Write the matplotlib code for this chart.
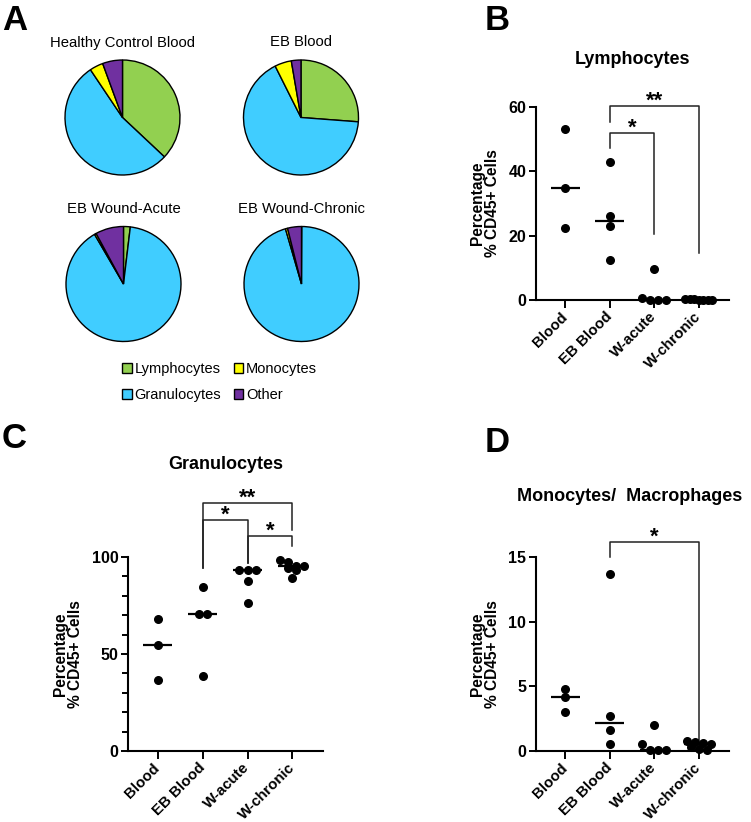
import matplotlib
matplotlib.use("Agg")
import matplotlib.pyplot as plt
from matplotlib.patches import Patch
from matplotlib.ticker import MultipleLocator
import numpy as np

plt.rcParams['font.family'] = ['Liberation Sans', 'DejaVu Sans']

W, H = 751, 822

# ---- data ----
cell_types = ["Lymphocytes", "Granulocytes", "Monocytes", "Other"]
cell_colors = ["#92D050", "#40CDFF", "#FFFF00", "#7030A0"]
pie_titles = ["Healthy Control Blood", "EB Blood", "EB Wound-Acute", "EB Wound-Chronic"]
pie_hc_blood = [37.0, 53.6, 3.8, 5.6]
pie_eb_blood = [26.2, 66.4, 4.7, 2.7]
pie_wound_acute = [1.9, 89.7, 0.5, 7.9]
pie_wound_chronic = [0.1, 95.4, 0.6, 3.9]

groups = ["Blood", "EB Blood", "W-acute", "W-chronic"]

lymph_blood = [53.3, 34.9, 22.3]
lymph_eb_blood = [43.0, 26.2, 23.1, 12.3]
lymph_w_acute = [9.6, 0.5, 0.1, 0.1, 0.1]
lymph_w_chronic = [0.3, 0.2, 0.1, 0.1, 0.2, 0.1, 0.1]

gran_blood = [68.0, 54.5, 36.6]
gran_eb_blood = [84.7, 70.6, 70.6, 38.8]
gran_w_acute = [93.3, 93.3, 93.3, 87.5, 76.3]
gran_w_chronic = [97.3, 98.3, 95.5, 94.2, 95.5, 93.1, 89.0]

mono_blood = [4.8, 4.2, 3.0]
mono_eb_blood = [13.7, 2.7, 1.6, 0.57]
mono_w_acute = [2.0, 0.55, 0.1, 0.1, 0.1]
mono_w_chronic = [0.8, 0.7, 0.6, 0.55, 0.3, 0.15, 0.1]

# comparisons: (group i, group j, label, bracket top, left leg end, right leg end)
lymph_sig = [(1, 3, "**", 60.2, 55.4, 14.6), (1, 2, "*", 51.8, 47.2, 20.5)]
gran_sig = [(1, 3, "**", 127.7, 94.3, 114.1), (1, 2, "*", 118.9, 94.3, 96.9),
            (2, 3, "*", 110.7, 96.9, 105.5)]
mono_sig = [(1, 3, "*", 16.16, 15.0, 0.82)]


def rect(x0, y0, x1, y1):
    return [x0 / W, 1 - y1 / H, (x1 - x0) / W, (y1 - y0) / H]


def row_offsets(ax, x0, vals, d_px=7.3, maxw=0.3):
    # spread points of similar value side by side (graphpad-ish scatter)
    vals = np.asarray(vals, dtype=float)
    pts = ax.transData.transform(np.column_stack([np.full(len(vals), x0), vals]))
    ypx = pts[:, 1]
    xscale = ax.transData.transform((1, 0))[0] - ax.transData.transform((0, 0))[0]
    order = np.argsort(-vals)
    offs = np.zeros(len(vals))
    rows = []
    for i in order:
        if rows and abs(ypx[rows[-1][0]] - ypx[i]) < d_px * 0.8:
            rows[-1].append(i)
        else:
            rows.append([i])
    for r in rows:
        n = len(r)
        step = d_px * 1.1 / xscale
        o = (np.arange(n) - (n - 1) / 2) * step
        if n > 1 and np.abs(o).max() > maxw:
            o = o * maxw / np.abs(o).max()
        offs[r] = o
    return offs


fig = plt.figure(figsize=(W / 100, H / 100), dpi=100)

# ---- A: pies ----
pie_sets = [pie_hc_blood, pie_eb_blood, pie_wound_acute, pie_wound_chronic]
centers = [(122.5, 117.5), (301, 117.5), (123.5, 284), (301.5, 284)]
r_px = 57.5
for vals, (cx, cy), title in zip(pie_sets, centers, pie_titles):
    ax = fig.add_axes(rect(cx - 66, cy - 66, cx + 66, cy + 66))
    ax.pie(vals, colors=cell_colors, startangle=90, counterclock=False,
           wedgeprops=dict(edgecolor="black", linewidth=1.0))
    lim = 66 / r_px
    ax.set_xlim(-lim, lim)
    ax.set_ylim(-lim, lim)
    ax.set_axis_off()
    fig.text(cx / W, 1 - (cy - 75) / H, title, ha="center", va="center", fontsize=10.7)

handles = [Patch(facecolor=c, edgecolor="black", linewidth=1.0) for c in cell_colors]
fig.legend(handles, cell_types, loc="upper left", bbox_to_anchor=(115 / W, 1 - 355 / H),
           ncol=2, frameon=False, fontsize=10.5, borderpad=0, handlelength=0.65,
           handleheight=0.65, handletextpad=0.2, columnspacing=0.85, labelspacing=0.8)


# ---- B, C, D: scatter plots ----
def dot_panel(box, datasets, ylim, yticks, title, title_xy, sig, minor=None):
    ax = fig.add_axes(rect(*box))
    ax.set_xlim(-0.66, 3.68)
    ax.set_ylim(*ylim)
    for i, vals in enumerate(datasets):
        offs = row_offsets(ax, i, vals)
        ax.scatter(i + offs, vals, s=30, color="black", zorder=3, clip_on=False)
        ax.hlines(np.median(vals), i - 0.33, i + 0.33, color="black", lw=1.6, zorder=2)
    for i, j, lab, top, lend, rend in sig:
        ax.plot([i, i, j, j], [lend, top, top, rend], color="#222222", lw=1.1, clip_on=False)
        ax.annotate(lab, xy=((i + j) / 2, top), xytext=(0, -0.5), textcoords="offset points",
                    ha="center", va="baseline", fontsize=16, fontweight="bold",
                    annotation_clip=False)
    ax.set_yticks(yticks)
    if minor:
        ax.yaxis.set_minor_locator(MultipleLocator(minor))
        ax.tick_params(axis="y", which="minor", length=4, width=1.4)
    ax.set_xticks(range(len(groups)))
    ax.set_xticklabels(groups, rotation=45, ha="right", va="center", rotation_mode="anchor",
                       fontweight="bold", fontsize=10.8)
    for lbl in ax.get_yticklabels():
        lbl.set_fontweight("bold")
        lbl.set_fontsize(11.5)
    ax.tick_params(axis="y", which="major", length=5, width=1.4, pad=2)
    ax.tick_params(axis="x", length=5.5, width=1.4, pad=5)
    for s in ["top", "right"]:
        ax.spines[s].set_visible(False)
    for s in ["left", "bottom"]:
        ax.spines[s].set_linewidth(1.5)
    ax.set_ylabel("Percentage\n% CD45+ Cells", fontweight="bold", fontsize=11.2,
                  linespacing=1.0, labelpad=6)
    fig.text(title_xy[0] / W, 1 - title_xy[1] / H, title, ha="center", va="center",
             fontsize=13, fontweight="bold")
    return ax


dot_panel((536, 107, 729, 300), [lymph_blood, lymph_eb_blood, lymph_w_acute, lymph_w_chronic],
          (0, 60), [0, 20, 40, 60], "Lymphocytes", (632, 60), lymph_sig)
dot_panel((128, 557, 323, 751), [gran_blood, gran_eb_blood, gran_w_acute, gran_w_chronic],
          (0, 100), [0, 50, 100], "Granulocytes", (226, 464), gran_sig, minor=10)
dot_panel((536, 557, 729, 751), [mono_blood, mono_eb_blood, mono_w_acute, mono_w_chronic],
          (0, 15), [0, 5, 10, 15], "Monocytes/  Macrophages", (630, 496), mono_sig)

# panel letters
for lab, x, y in [("A", 2, 20), ("B", 485, 20), ("C", 2, 438), ("D", 485, 443)]:
    fig.text(x / W, 1 - y / H, lab, ha="left", va="center", fontsize=25, fontweight="bold")

fig.savefig("out.png", dpi=100)
